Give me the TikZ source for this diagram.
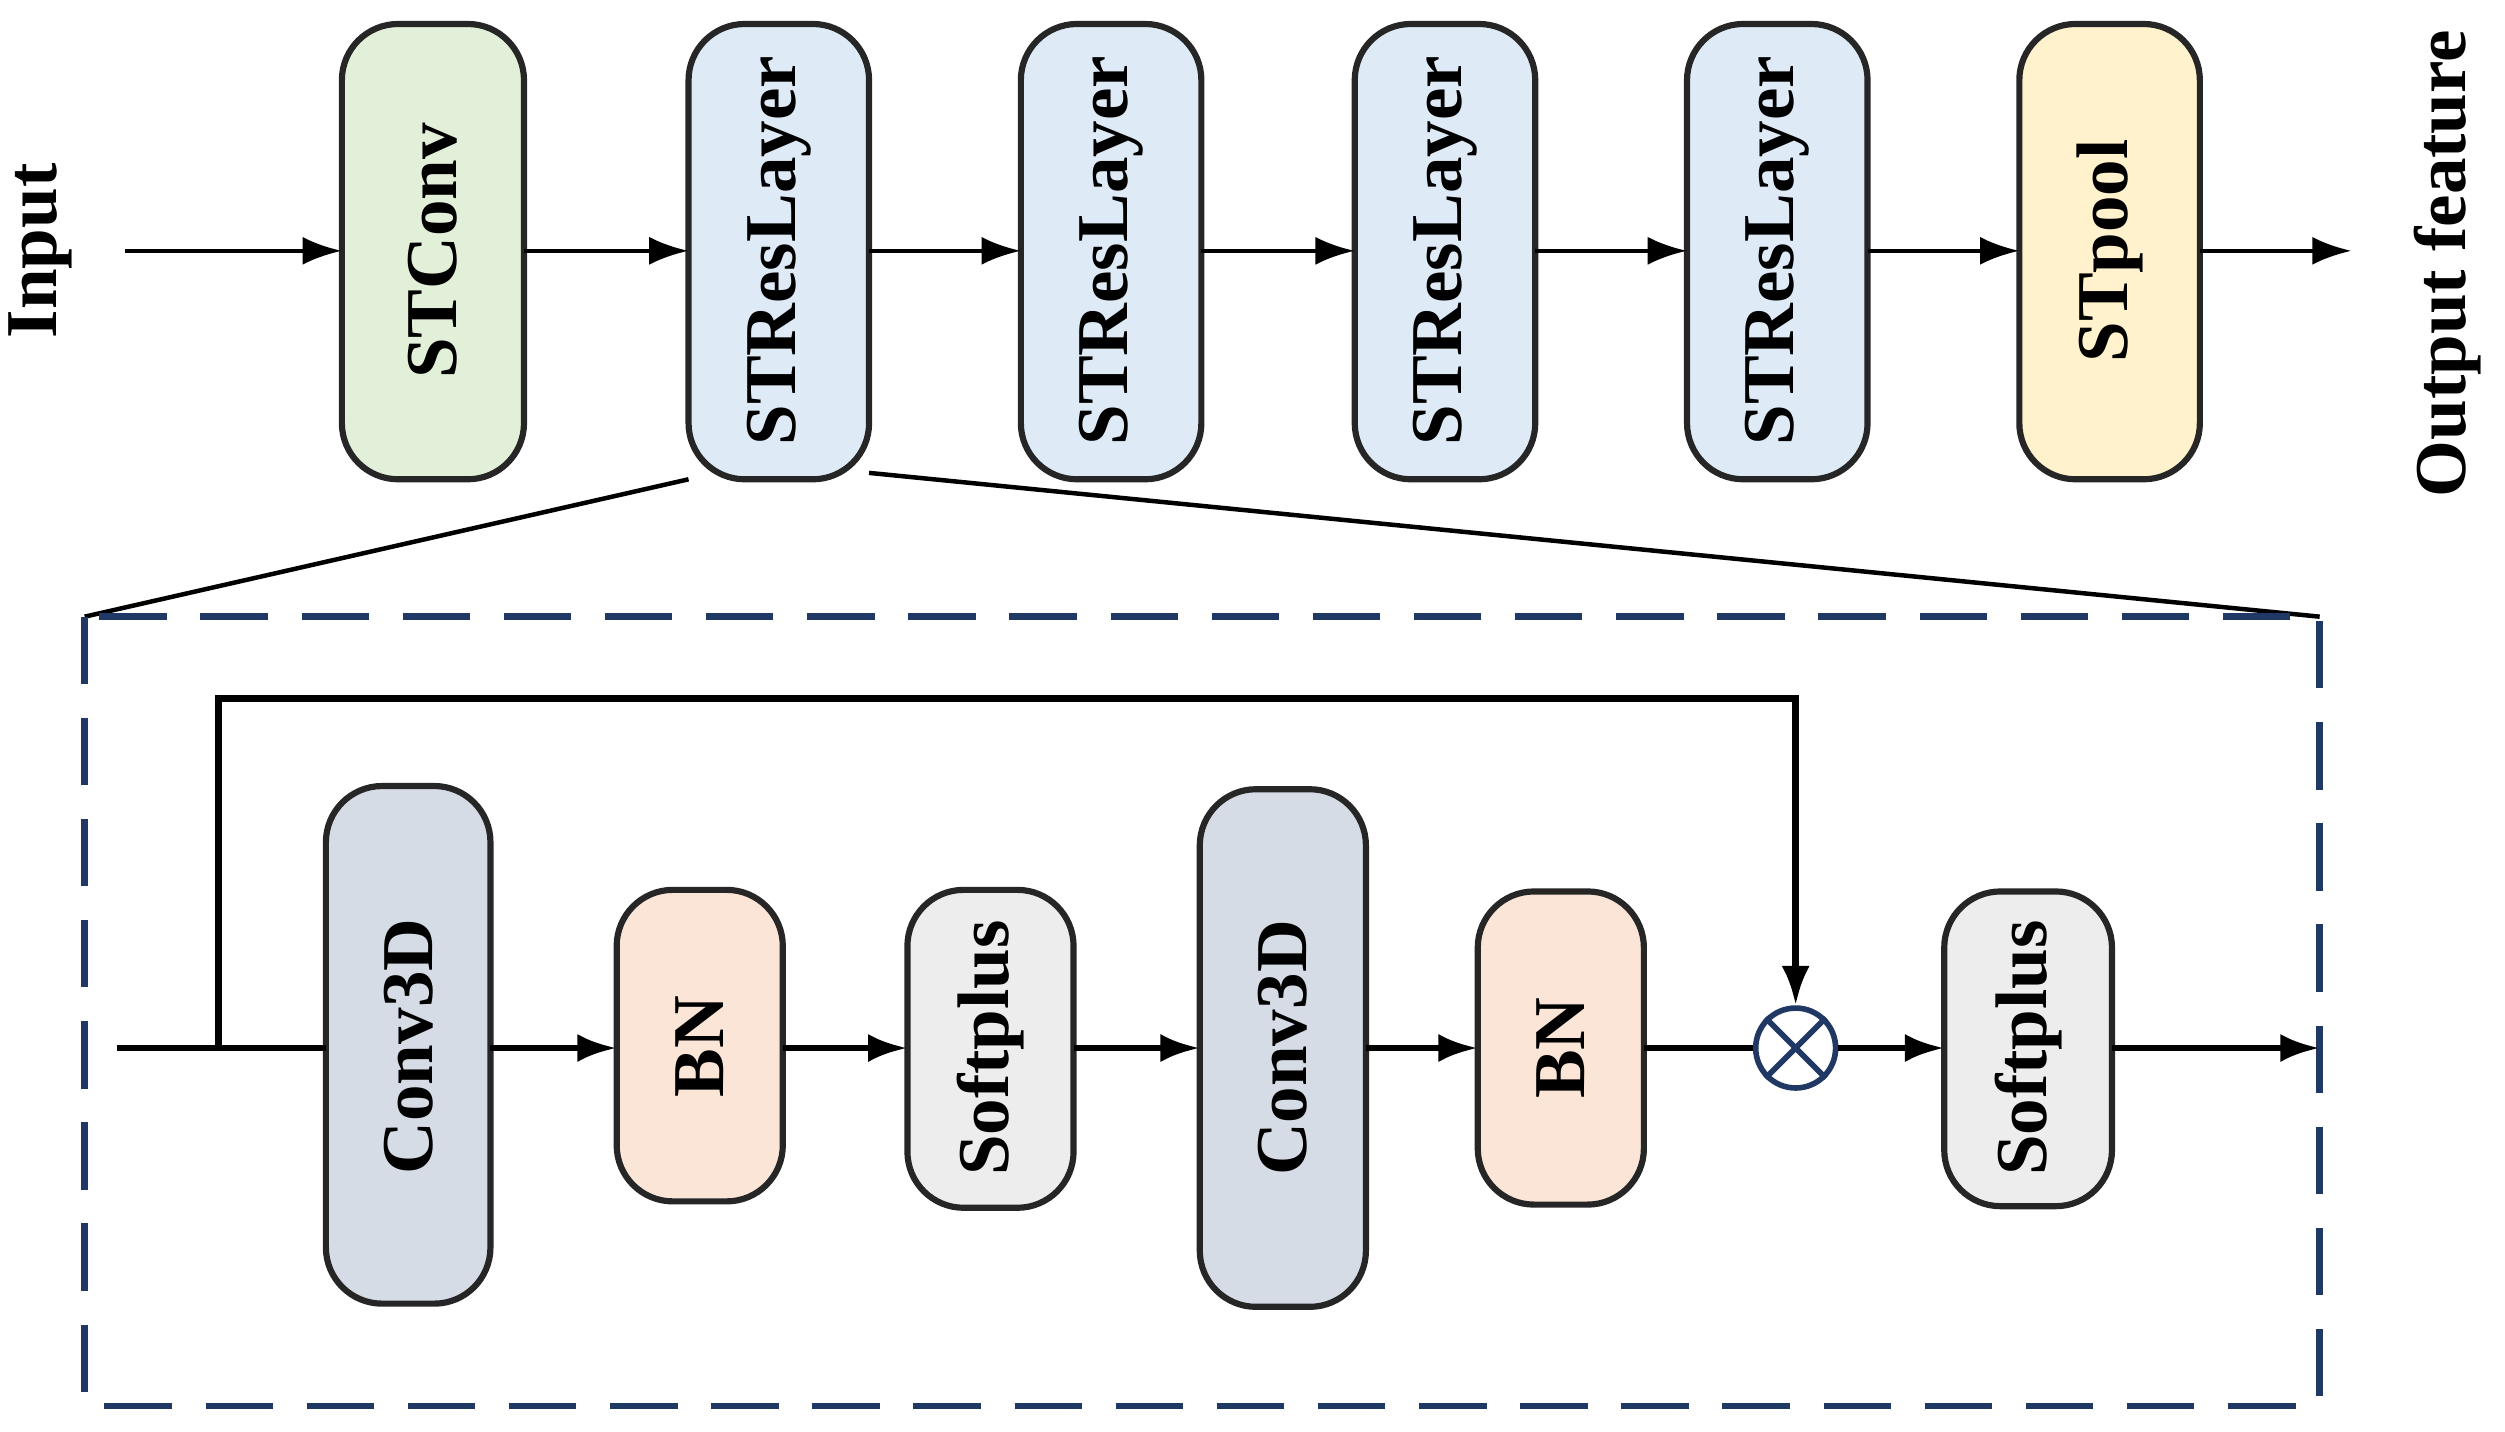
\documentclass[tikz,border=0pt]{standalone}
\usepackage{fontspec}
\setmainfont{Liberation Serif}
\usetikzlibrary{arrows.meta,shapes.misc}
\definecolor{edge}{HTML}{262626}
\definecolor{dblue}{HTML}{203864}
\tikzset{
 blk/.style={draw=edge,line width=1.1pt,rounded corners=10pt,inner sep=0pt},
 lbl/.style={rotate=90,font=\fontsize{13pt}{15pt}\selectfont\bfseries},
 arr/.style={-{Latex[length=7pt,width=5pt]},line width=0.8pt},
 arrb/.style={-{Latex[length=7pt,width=5pt]},line width=1.2pt}
}
\begin{document}
\begin{tikzpicture}[x=0.01cm,y=-0.01cm]
\useasboundingbox (0,0) rectangle (1568,896);
% top row
\foreach \n/\xa/\xb/\c in {a/214/328/E2F0D9,b/431/544/DEEBF7,c/639/752/DEEBF7,d/848/961/DEEBF7,e/1056/1169/DEEBF7,f/1264/1377/FFF2CC}{
 \definecolor{tmp}{HTML}{\c}
 \path[blk,fill=tmp] (\xa,15) rectangle (\xb,300);
 \coordinate (\n) at ({(\xa+\xb)/2},157);
}
\node[lbl] (ta) at (271,157) {STConv};
\node[lbl] (tb) at (487.5,157) {STResLayer};
\node[lbl] (tc) at (695.5,157) {STResLayer};
\node[lbl] (td) at (904.5,157) {STResLayer};
\node[lbl] (te) at (1112.5,157) {STResLayer};
\node[lbl] (tf) at (1320.5,157) {STpool};
\node[lbl] (in) at (25,157) {Input};
\node[lbl] (out) at (1532,165) {Output feature};
\coordinate (i0) at (78,157); \coordinate (o1) at (1472,157);
\draw[arr] (i0) -- (214,157);
\draw[arr] (328,157) -- (431,157);
\draw[arr] (544,157) -- (639,157);
\draw[arr] (752,157) -- (848,157);
\draw[arr] (961,157) -- (1056,157);
\draw[arr] (1169,157) -- (1264,157);
\draw[arr] (1377,157) -- (o1);
% zoom lines
\draw[line width=0.8pt] (431,300) -- (53,386);
\draw[line width=0.8pt] (544,296) -- (1452,386);
\draw[dblue,line width=1.2pt,dash pattern=on 12pt off 6pt] (53,386) rectangle (1452,880);
% inner
\definecolor{cg}{HTML}{D6DCE5}\definecolor{cb}{HTML}{FBE5D6}\definecolor{cs}{HTML}{EDEDED}
\path[blk,fill=cg] (204,492) rectangle (307,816);
\path[blk,fill=cb] (386,557) rectangle (490,752);
\path[blk,fill=cs] (568,557) rectangle (672,756);
\path[blk,fill=cg] (751,494) rectangle (855,818);
\path[blk,fill=cb] (925,558) rectangle (1029,754);
\path[blk,fill=cs] (1217,558) rectangle (1322,755);
\node[lbl] (c1) at (255.5,655) {Conv3D};
\node[lbl] (b1) at (438,655) {BN};
\node[lbl] (s1) at (620,656) {Softplus};
\node[lbl] (c2) at (803,656) {Conv3D};
\node[lbl] (b2) at (977,656) {BN};
\node[lbl] (s2) at (1269.5,656) {Softplus};
\node[circle,draw=dblue,line width=1pt,minimum size=50\pgflinewidth,inner sep=0pt,minimum size=0.5cm] (x) at (1124,656) {};
\draw[dblue,line width=1pt] (x.north west) -- (x.south east) (x.north east) -- (x.south west);
\coordinate (s0) at (73,656); \coordinate (sk) at (137,656); \coordinate (e0) at (1452,656);
\draw[line width=1.2pt] (s0) -- (204,656);
\draw[arrb] (307,656) -- (386,656);
\draw[arrb] (490,656) -- (568,656);
\draw[arrb] (672,656) -- (751,656);
\draw[arrb] (855,656) -- (925,656);
\draw[line width=1.2pt] (1029,656) -- (x.west);
\draw[arrb] (x.east) -- (1217,656);
\draw[arrb] (1322,656) -- (e0);
\draw[arrb] (sk) -- (137,437) -- (1124,437) -- (x.north);
\end{tikzpicture}
\end{document}
